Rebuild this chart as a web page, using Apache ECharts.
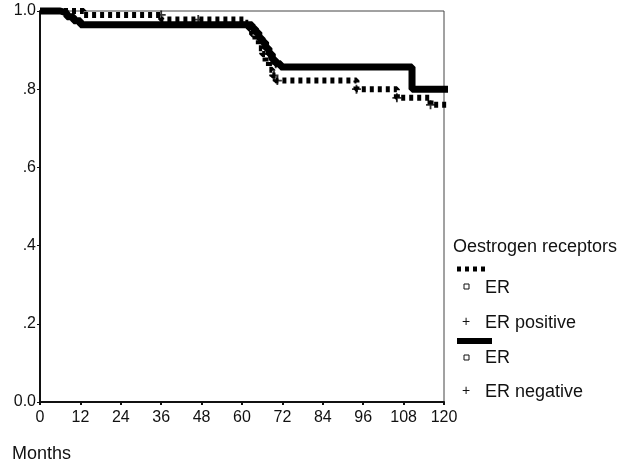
<!DOCTYPE html>
<html>
<head>
<meta charset="utf-8">
<script src="https://cdn.jsdelivr.net/npm/echarts@6/dist/echarts.min.js"></script>
<style>
html, body { margin: 0; padding: 0; background: #fff; }
#chart { width: 639px; height: 467px; }
</style>
</head>
<body>
<div id="chart"></div>
<script>
// ER positive (dashed curve), survival steps
var posTimes = [0, 13, 36, 61, 62, 63, 64, 65, 66, 67, 68, 69, 70, 94, 106, 116, 125];
var posSurv = [1.0, 0.99, 0.978, 0.97, 0.955, 0.94, 0.925, 0.905, 0.89, 0.87, 0.85, 0.835, 0.822, 0.80, 0.778, 0.76, 0.76];
// ER negative (solid curve)
var negTimes = [0, 6, 8, 10, 12, 63, 64, 65, 66, 67, 68, 69, 70, 71.5, 110.5, 122];
var negSurv = [1.0, 0.995, 0.985, 0.975, 0.965, 0.955, 0.945, 0.93, 0.92, 0.905, 0.89, 0.875, 0.865, 0.857, 0.80, 0.80];
// censored cases (+)
var posCensorT = [36, 47, 69.5, 70.5, 94, 106, 116];
var posCensorS = [0.99, 0.978, 0.835, 0.822, 0.80, 0.778, 0.76];
var negCensorT = [68, 70];
var negCensorS = [0.89, 0.865];

var xTicks = [0, 12, 24, 36, 48, 60, 72, 84, 96, 108, 120];
var yTickLabels = { '0': '0.0', '0.2': '.2', '0.4': '.4', '0.6': '.6', '0.8': '.8', '1': '1.0' };

function pairs(xs, ys) {
  return xs.map(function (x, i) { return [x, ys[i]]; });
}

var font = 'Liberation Sans';
var plus = 'path://M4,0H6V4H10V6H6V10H4V6H0V4H4Z';

var myChart = echarts.init(document.getElementById('chart'));
myChart.setOption({
  animation: false,
  grid: {
    left: 40,
    right: 195,
    top: 11,
    bottom: 65,
    show: true,
    borderColor: '#444',
    borderWidth: 1
  },
  xAxis: {
    type: 'value',
    min: 0,
    max: 120,
    interval: 12,
    splitLine: { show: false },
    axisLine: { lineStyle: { color: '#111', width: 2 } },
    axisTick: { length: 3, lineStyle: { color: '#111', width: 2 } },
    axisLabel: {
      color: '#111',
      fontFamily: font,
      fontSize: 16,
      margin: 8,
      formatter: function (v) { return xTicks.indexOf(v) >= 0 ? String(v) : ''; }
    }
  },
  yAxis: {
    type: 'value',
    min: 0,
    max: 1,
    interval: 0.2,
    splitLine: { show: false },
    axisLine: { show: true, lineStyle: { color: '#111', width: 2 } },
    axisTick: { show: true, length: 3, lineStyle: { color: '#111' } },
    axisLabel: {
      color: '#111',
      fontFamily: font,
      fontSize: 16,
      margin: 4,
      formatter: function (v) { return yTickLabels[String(Math.round(v * 10) / 10)]; }
    }
  },
  series: [
    {
      name: 'ER negative',
      type: 'line',
      step: 'end',
      clip: false,
      showSymbol: false,
      data: pairs(negTimes, negSurv),
      lineStyle: { color: '#000', width: 7 },
      z: 2
    },
    {
      name: 'ER positive',
      type: 'line',
      step: 'end',
      clip: false,
      showSymbol: false,
      data: pairs(posTimes, posSurv),
      lineStyle: { color: '#000', width: 6, type: [4, 4] },
      z: 3
    },
    {
      name: 'ER positive censored',
      type: 'scatter',
      symbol: plus,
      symbolSize: 9,
      itemStyle: { color: '#000' },
      data: pairs(posCensorT, posCensorS),
      z: 4
    },
    {
      name: 'ER negative censored',
      type: 'scatter',
      symbol: plus,
      symbolSize: 9,
      itemStyle: { color: '#000' },
      data: pairs(negCensorT, negCensorS),
      z: 4
    }
  ],
  graphic: [
    { type: 'text', left: 12, top: 445, style: { text: 'Months', font: '18px ' + font, fill: '#111' } },
    { type: 'text', left: 453, top: 238, style: { text: 'Oestrogen receptors', font: '18px ' + font, fill: '#111' } },
    { type: 'line', shape: { x1: 457, y1: 269, x2: 487, y2: 269 }, style: { stroke: '#000', lineWidth: 5, lineDash: [4, 4] } },
    { type: 'rect', shape: { x: 464, y: 284, width: 5, height: 5 }, style: { fill: 'none', stroke: '#111', lineWidth: 1 } },
    { type: 'text', left: 485, top: 279, style: { text: 'ER', font: '18px ' + font, fill: '#111' } },
    { type: 'text', left: 462, top: 315, style: { text: '+', font: '14px ' + font, fill: '#111' } },
    { type: 'text', left: 485, top: 314, style: { text: 'ER positive', font: '18px ' + font, fill: '#111' } },
    { type: 'rect', shape: { x: 457, y: 338, width: 35, height: 6 }, style: { fill: '#000' } },
    { type: 'rect', shape: { x: 464, y: 355, width: 5, height: 5 }, style: { fill: 'none', stroke: '#111', lineWidth: 1 } },
    { type: 'text', left: 485, top: 349, style: { text: 'ER', font: '18px ' + font, fill: '#111' } },
    { type: 'text', left: 462, top: 384, style: { text: '+', font: '14px ' + font, fill: '#111' } },
    { type: 'text', left: 485, top: 383, style: { text: 'ER negative', font: '18px ' + font, fill: '#111' } }
  ]
});
</script>
</body>
</html>
